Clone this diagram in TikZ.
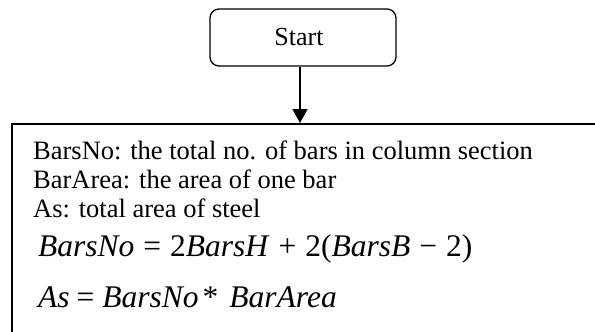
\documentclass[tikz,border=0pt]{standalone}
\usepackage{fontspec}
\setmainfont{Liberation Serif}
\usetikzlibrary{arrows.meta}
\tikzset{
  startbox/.style={draw, line width=1.3pt, rounded corners=9pt, minimum width=186pt, minimum height=57pt, inner sep=0pt, font=\fontsize{26}{30}\selectfont},
  bigbox/.style={draw, line width=1.6pt, minimum width=620pt, minimum height=240pt, inner sep=0pt, anchor=north west},
  txt/.style={anchor=base west, inner sep=0pt, font=\fontsize{26.5}{29}\selectfont},
  eqn/.style={anchor=base west, inner sep=0pt, font=\fontsize{31.5}{34}\selectfont},
  flow/.style={line width=1.2pt, -{Triangle[width=15pt,length=14pt]}}
}
\newcommand{\mi}[1]{\textit{#1}}
\newcommand{\op}[1]{\hspace{9pt}#1\hspace{9pt}}
\begin{document}
\begin{tikzpicture}[x=1pt,y=1pt]
\useasboundingbox (0,0) rectangle (595,-332);
\clip (0,0) rectangle (595,-332);
\node[startbox] (start) at (303,-37.5) {\hspace*{-8pt}Start};
\node[bigbox] (box) at (11,-123) {};
\node[txt] (l1) at (33,-159) {BarsNo: the total no. of bars in column section};
\node[txt] (l2) at (33,-188) {BarArea: the area of one bar};
\node[txt] (l3) at (33,-217) {As: total area of steel};
\node[eqn] (e1) at (38,-256) {\mi{BarsNo}\op{=}2\mi{BarsH}\op{+}2(\mi{BarsB}\op{−}2)};
\node[eqn] (e2) at (38,-307) {\mi{As}\hspace{7pt}=\hspace{8pt}\mi{BarsNo}\hspace{4pt}*\hspace{11pt}\mi{BarArea}};
\draw[flow] ([xshift=-3pt]start.south) -- ([xshift=-3pt]start.south |- box.north);
\end{tikzpicture}
\end{document}
